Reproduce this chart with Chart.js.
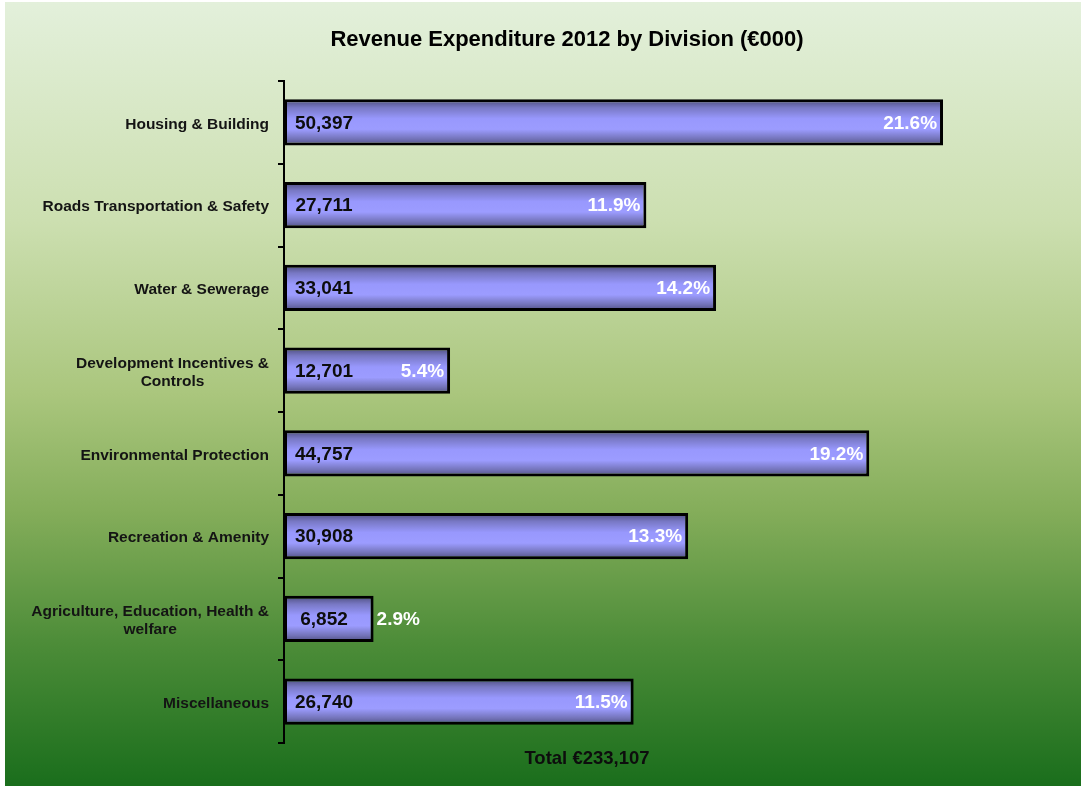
<!DOCTYPE html>
<html>
<head>
<meta charset="utf-8">
<script src="https://cdn.jsdelivr.net/npm/chart.js@4/dist/chart.umd.min.js"></script>
<style>
  html, body { margin: 0; padding: 0; background: #ffffff; }
  #wrap { position: absolute; left: 5px; top: 2px; width: 1076px; height: 784px; }
</style>
</head>
<body>
<div id="wrap"><canvas id="c"></canvas></div>
<script>
const categories = [
  ["Housing & Building"],
  ["Roads Transportation & Safety"],
  ["Water & Sewerage"],
  ["Development Incentives &", "Controls"],
  ["Environmental Protection"],
  ["Recreation & Amenity"],
  ["Agriculture, Education, Health &", "welfare"],
  ["Miscellaneous"]
];
const values = [50397, 27711, 33041, 12701, 44757, 30908, 6852, 26740];
const shares = ["21.6%", "11.9%", "14.2%", "5.4%", "19.2%", "13.3%", "2.9%", "11.5%"];
const chartTitle = "Revenue Expenditure 2012 by Division (€000)";
const totalLabel = "Total €233,107";

const FONT = "'Liberation Sans', Arial, sans-serif";

const bgPlugin = {
  id: 'bg',
  beforeDraw(chart) {
    const { ctx, width, height } = chart;
    const g = ctx.createLinearGradient(0, 0, 0, height);
    g.addColorStop(0, 'rgb(227,240,219)');
    g.addColorStop(0.28, 'rgb(204,223,176)');
    g.addColorStop(0.5, 'rgb(170,198,125)');
    g.addColorStop(0.65, 'rgb(132,173,90)');
    g.addColorStop(0.82, 'rgb(76,140,56)');
    g.addColorStop(1, 'rgb(26,110,28)');
    ctx.save();
    ctx.fillStyle = g;
    ctx.fillRect(0, 0, width, height);
    ctx.restore();
  }
};

const labelPlugin = {
  id: 'labels',
  afterDatasetsDraw(chart) {
    const { ctx, chartArea } = chart;
    const meta = chart.getDatasetMeta(0);
    const yScale = chart.scales.y;
    ctx.save();
    ctx.font = "bold 15.5px " + FONT;
    ctx.fillStyle = '#141414';
    ctx.textBaseline = 'middle';
    ctx.textAlign = 'center';
    const rightX = chartArea.left - 15;
    const lh = 18;
    categories.forEach((lines, i) => {
      const cy = yScale.getPixelForValue(i) + 2;
      const maxW = Math.max(...lines.map(l => ctx.measureText(l).width));
      const cx = rightX - maxW / 2;
      const y0 = cy - (lines.length - 1) * lh / 2;
      lines.forEach((l, k) => ctx.fillText(l, cx, y0 + k * lh));
    });
    ctx.font = "bold 19px " + FONT;
    meta.data.forEach((bar, i) => {
      const y = bar.y + 1;
      ctx.fillStyle = '#0d0d0d';
      ctx.textAlign = 'center';
      ctx.fillText(values[i].toLocaleString('en-US'), chartArea.left + 40, y);
      ctx.fillStyle = '#ffffff';
      const w = bar.x - bar.base;
      if (w < 120) {
        ctx.textAlign = 'left';
        ctx.fillText(shares[i], bar.x + 3, y);
      } else {
        ctx.textAlign = 'right';
        ctx.fillText(shares[i], bar.x - 6, y);
      }
    });
    ctx.font = "bold 18.5px " + FONT;
    ctx.fillStyle = '#0d0d0d';
    ctx.textAlign = 'center';
    ctx.fillText(totalLabel, chartArea.left + 303, chartArea.bottom + 16);
    ctx.restore();
  }
};

function barGradient(context) {
  const chart = context.chart;
  if (!chart.chartArea || !chart.scales.y) return '#9999ff';
  const ys = chart.scales.y;
  const cy = ys.getPixelForValue(context.dataIndex);
  const band = (chart.chartArea.bottom - chart.chartArea.top) / categories.length;
  const h = band * 0.556;
  const g = chart.ctx.createLinearGradient(0, cy - h / 2, 0, cy + h / 2);
  g.addColorStop(0, '#4b4b7a');
  g.addColorStop(0.18, '#7878c4');
  g.addColorStop(0.42, '#9898fd');
  g.addColorStop(0.65, '#9c9cff');
  g.addColorStop(0.86, '#7373b8');
  g.addColorStop(1, '#4e4e80');
  return g;
}

new Chart(document.getElementById('c'), {
  type: 'bar',
  data: {
    labels: categories,
    datasets: [{
      data: values,
      backgroundColor: barGradient,
      borderColor: '#000000',
      borderWidth: 3,
      borderSkipped: false,
      barPercentage: 0.556,
      categoryPercentage: 1.0
    }]
  },
  options: {
    indexAxis: 'y',
    responsive: true,
    maintainAspectRatio: false,
    animation: false,
    layout: { padding: { left: 60.4, right: 12.4, top: 0, bottom: 43 } },
    plugins: {
      legend: { display: false },
      tooltip: { enabled: false },
      title: {
        display: true,
        text: chartTitle,
        color: '#000000',
        font: { family: FONT, size: 22, weight: 'bold' },
        padding: { top: 25, bottom: 27.6 }
      }
    },
    scales: {
      x: { display: false, min: 0, max: 60000 },
      y: {
        type: 'category',
        offset: true,
        ticks: { display: false },
        grid: {
          display: true, drawOnChartArea: false, drawTicks: true,
          tickLength: 6, color: '#000000', lineWidth: 2, offset: true
        },
        border: { display: true, color: '#000000', width: 2 },
        afterFit(scale) { scale.width = 218.6; }
      }
    }
  },
  plugins: [bgPlugin, labelPlugin]
});
</script>
</body>
</html>
